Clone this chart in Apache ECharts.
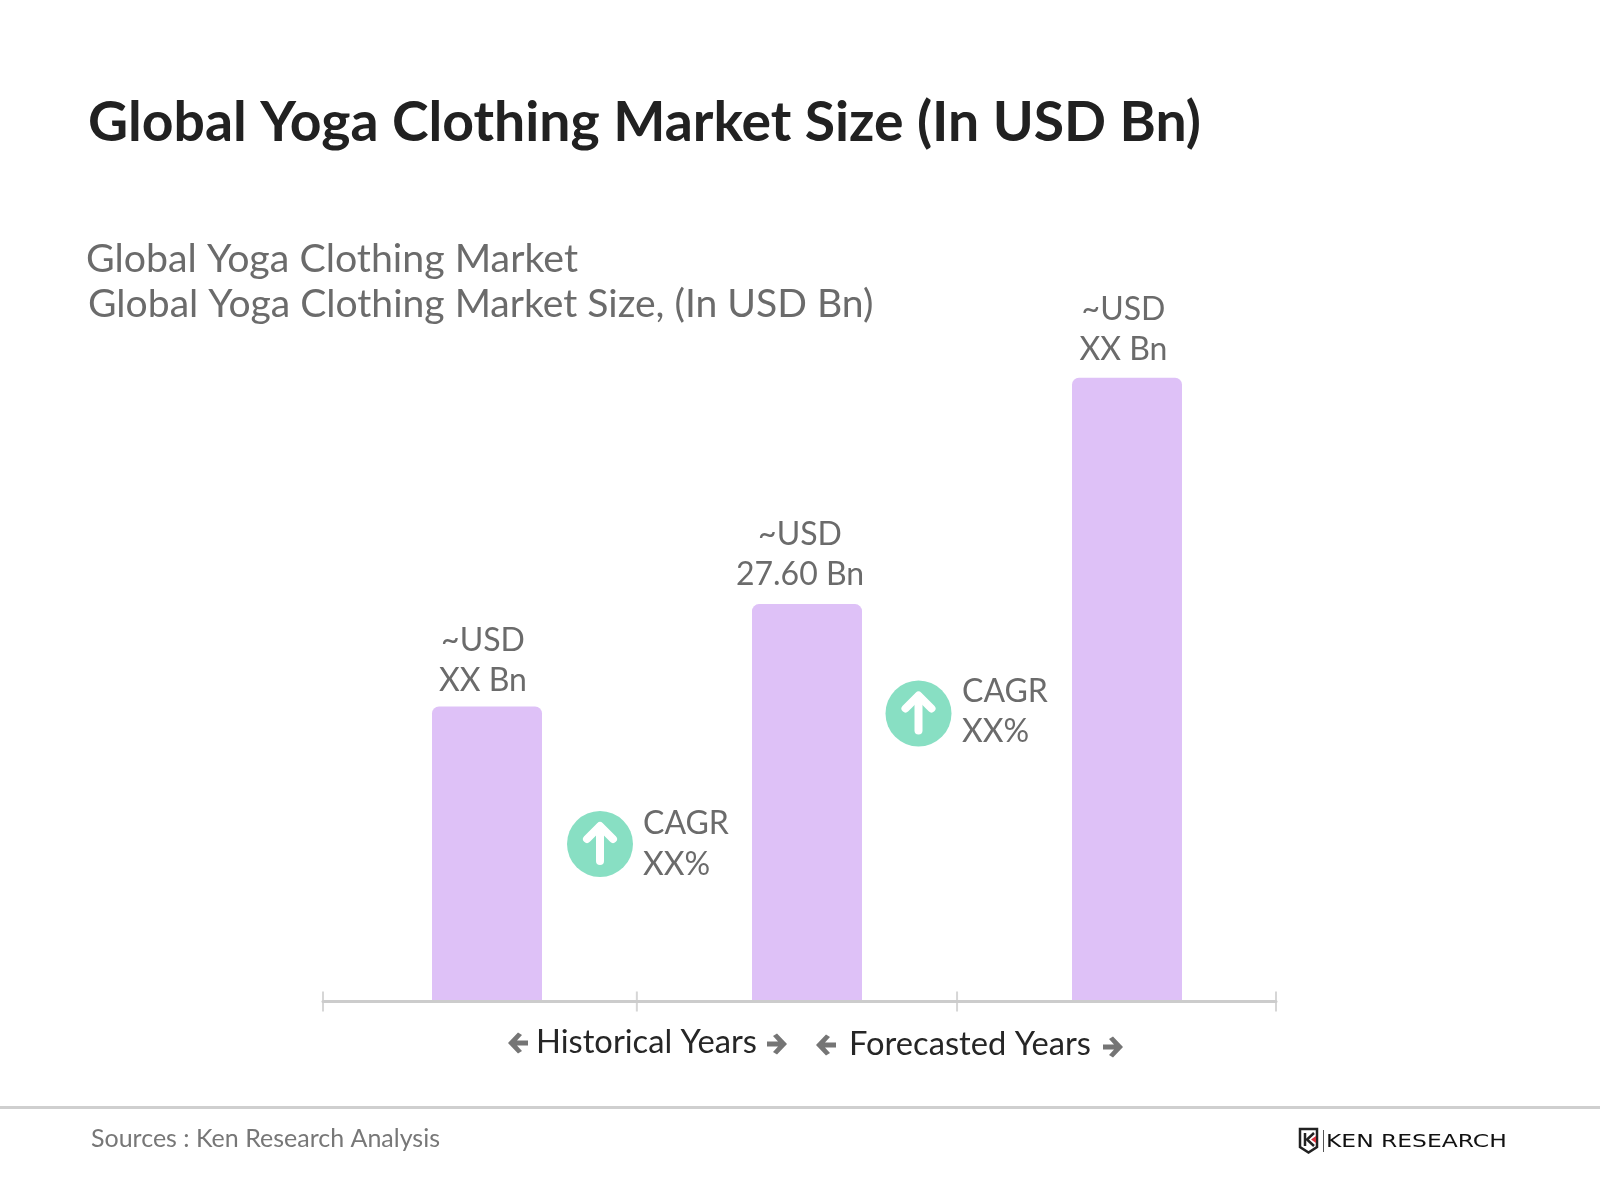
<!DOCTYPE html>
<html>
<head>
<meta charset="utf-8">
<style>html,body{margin:0;padding:0;background:#fff}#c{width:1600px;height:1200px}</style>
<script src="https://cdn.jsdelivr.net/npm/echarts@6/dist/echarts.min.js"></script>
</head>
<body>
<div id="c"></div>
<script>
const categories = ['Base Year', 'Current Year', 'Forecast Year'];
const values = [20.5, 27.6, 43.3];
const valueLabels = ['XX Bn', '27.60 Bn', 'XX Bn'];
const cagrLabels = ['XX%', 'XX%'];
const axisTicks = [0, 0.988, 1.996, 3];
const titleText = 'Global Yoga Clothing Market Size (In USD Bn)';
const subtitleLines = ['Global Yoga Clothing Market', 'Global Yoga Clothing Market Size, (In USD Bn)'];
const sourceText = 'Sources : Ken Research Analysis';

const FONT = 'Lato';
const GREY = '#6b6b6b';
const labelShift = [[-4, 5.5], [-7, 1.5], [-3.5, 2.5]];

function txt(x, y, text, size, fill, extra) {
  return Object.assign({
    type: 'text', x, y, silent: true,
    style: Object.assign({text, fontFamily: FONT, fontSize: size, fill, textAlign: 'left', textVerticalAlign: 'middle'}, extra || {})
  });
}
function arrow(cx, cy, dir) {
  const s = dir;
  const pts = [[-10,-2.6],[1,-2.6],[-4,-8],[0,-10.5],[10,0],[0,10.5],[-4,8],[1,2.6],[-10,2.6]]
    .map(p => [cx + s * p[0], cy + p[1]]);
  return {type: 'polygon', silent: true, shape: {points: pts}, style: {fill: '#757575'}};
}
function cagr(cx, cy, tx, y1, y2, value) {
  return [
    {type: 'circle', silent: true, shape: {cx, cy, r: 33}, style: {fill: '#88dfc3'}},
    {type: 'polyline', silent: true, shape: {points: [[cx - 13, cy - 5], [cx, cy - 18], [cx + 13, cy - 5]]},
      style: {stroke: '#fff', lineWidth: 8, lineCap: 'round', lineJoin: 'round', fill: 'none'}},
    {type: 'line', silent: true, shape: {x1: cx, y1: cy - 17, x2: cx, y2: cy + 17},
      style: {stroke: '#fff', lineWidth: 8, lineCap: 'round'}},
    txt(tx, y1, 'CAGR', 32, GREY),
    txt(tx, y2, value, 32, GREY)
  ];
}

const graphics = [
  txt(86, 259, subtitleLines[0], 39.3, GREY),
  txt(88, 304, subtitleLines[1], 39.1, GREY),
  ...cagr(600, 844, 643, 824, 865, cagrLabels[0]),
  ...cagr(918.5, 713.5, 962, 692, 732, cagrLabels[1]),
  txt(536, 1042, 'Historical Years', 32.7, '#262626'),
  txt(849, 1044, 'Forecasted Years', 32.7, '#262626'),
  arrow(518, 1043, -1), arrow(777, 1044, 1), arrow(826, 1045, -1), arrow(1113, 1047, 1),
  {type: 'line', silent: true, shape: {x1: 0, y1: 1107.5, x2: 1600, y2: 1107.5}, style: {stroke: '#cfcfcf', lineWidth: 3}},
  txt(91, 1139, sourceText, 25, '#777777'),
  // logo
  {type: 'polygon', silent: true, shape: {points: [[1300,1129],[1317,1129],[1317,1147],[1308.5,1152.5],[1300,1147]]}, style: {fill: '#fff', stroke: '#222', lineWidth: 2.5}},
  {type: 'line', silent: true, shape: {x1: 1305, y1: 1133, x2: 1305, y2: 1146}, style: {stroke: '#222', lineWidth: 2.5}},
  {type: 'polyline', silent: true, shape: {points: [[1314,1133],[1307,1139.5],[1314,1146]]}, style: {stroke: '#222', lineWidth: 2.5, fill: 'none'}},
  {type: 'polygon', silent: true, shape: {points: [[1316,1136],[1311,1139.5],[1316,1143]]}, style: {fill: '#d8323c'}},
  {type: 'line', silent: true, shape: {x1: 1323.5, y1: 1130, x2: 1323.5, y2: 1152}, style: {stroke: '#555', lineWidth: 1}},
  {type: 'text', silent: true, x: 1326, y: 1142, scaleX: 1.3, style: {text: 'KEN RESEARCH', fontFamily: 'DejaVu Sans', fontSize: 18, fill: '#111111', textAlign: 'left', textVerticalAlign: 'middle'}}
];

const chart = echarts.init(document.getElementById('c'), null, {renderer: 'canvas', width: 1600, height: 1200});
chart.setOption({
  animation: false,
  backgroundColor: '#ffffff',
  title: {
    text: titleText, left: 83, top: 91,
    textStyle: {fontFamily: FONT, fontWeight: 'bold', fontSize: 55.3, color: '#212121'}
  },
  grid: [
    {left: 327, width: 960, top: 137, height: 865},
    {left: 323, width: 953, top: 991.5, height: 20}
  ],
  xAxis: [
    {type: 'category', gridIndex: 0, data: categories, axisLine: {show: false}, axisTick: {show: false}, axisLabel: {show: false}},
    {type: 'value', gridIndex: 1, min: 0, max: 3, z: 3,
      axisLine: {show: true, onZero: true, lineStyle: {color: '#cccccc', width: 3}},
      axisTick: {show: false}, axisLabel: {show: false}, splitLine: {show: false}}
  ],
  yAxis: [
    {type: 'value', gridIndex: 0, min: 0, max: 60, show: false},
    {type: 'value', gridIndex: 1, min: -1, max: 1, show: false}
  ],
  series: [{
    type: 'bar', xAxisIndex: 0, yAxisIndex: 0, barWidth: 110,
    itemStyle: {color: '#dec1f7', borderRadius: [7, 7, 0, 0]},
    data: values.map((v, i) => ({
      value: v,
      label: {offset: labelShift[i], formatter: '~USD\n' + valueLabels[i]}
    })),
    label: {show: true, position: 'top', distance: 11, fontFamily: FONT, fontSize: 32, lineHeight: 40, color: GREY}
  }, {
    type: 'scatter', xAxisIndex: 1, yAxisIndex: 1, z: 4, silent: true, clip: false,
    symbol: 'rect', symbolSize: [2, 20],
    itemStyle: {color: '#cccccc'},
    data: axisTicks.map(t => [t, 0])
  }],
  graphic: graphics
});
</script>
</body>
</html>
